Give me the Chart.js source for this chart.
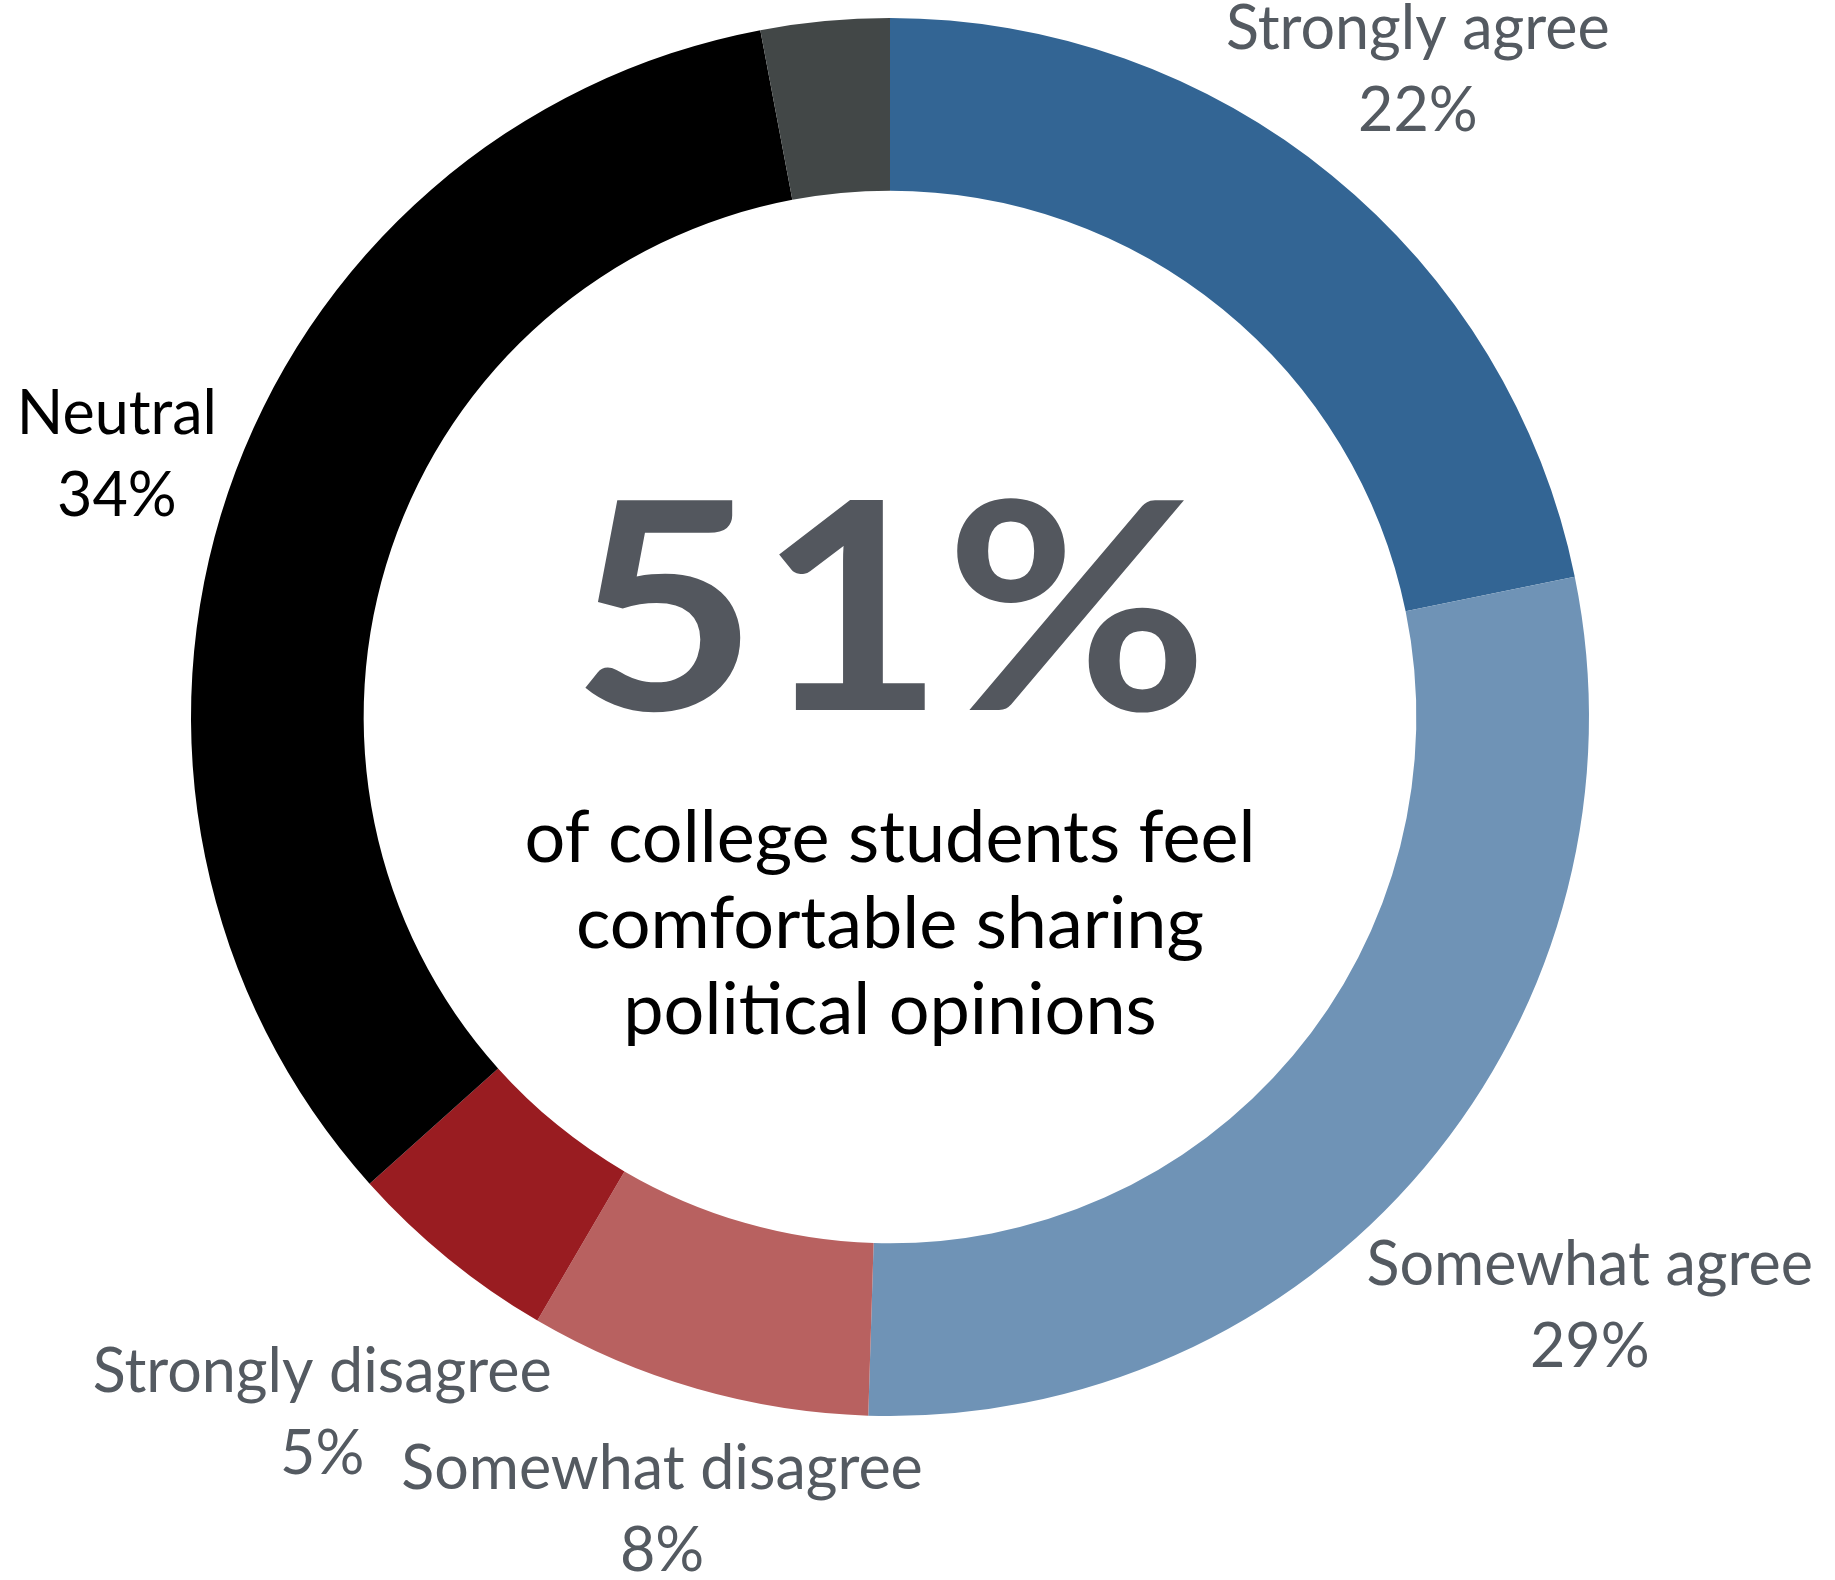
<!doctype html>
<html lang="en">
<head>
<meta charset="utf-8">
<script src="https://cdn.jsdelivr.net/npm/chart.js"></script>
<title>Political opinions doughnut</title>
<style>
  html, body { margin: 0; padding: 0; background: #ffffff; }
  canvas { display: block; }
</style>
</head>
<body>
<canvas id="myChart" width="1835" height="1580"></canvas>

<script>
// answers, clockwise from the top
const categories = ['Strongly agree', 'Somewhat agree', 'Somewhat disagree', 'Strongly disagree', 'Neutral', ''];
const shares = [22, 29, 8, 5, 34, 3];
const sliceColours = ['#336594', '#6f93b6', '#b86160', '#991c21', '#000000', '#424747'];
const labelColours = ['#545a61', '#545a61', '#545a61', '#545a61', '#000000', '#545a61'];

const headline = '51%';
const subtitle = ['of college students feel', 'comfortable sharing', 'political opinions'];

const FONT = 'Lato, "Open Sans", sans-serif';

// labels round the ring: name + percent, pushed out along the middle of each slice
const outerLabels = {
  id: 'outerLabels',
  afterDatasetsDraw(chart) {
    const ctx = chart.ctx;
    const arcs = chart.getDatasetMeta(0).data;
    ctx.save();
    ctx.font = '61px ' + FONT;
    ctx.textAlign = 'center';
    ctx.textBaseline = 'middle';
    arcs.forEach((arc, i) => {
      if (!categories[i]) return;
      const p = arc.getProps(['x', 'y', 'startAngle', 'endAngle', 'outerRadius'], true);
      const mid = (p.startAngle + p.endAngle) / 2;
      const line2 = shares[i] + '%';
      const w = Math.max(ctx.measureText(categories[i]).width, ctx.measureText(line2).width);
      const h = 140;
      const dx = Math.cos(mid), dy = Math.sin(mid);
      let dist = p.outerRadius + Math.abs(dx) * w / 2 + Math.abs(dy) * h / 2;
      // slide back along the ray if the block would leave the canvas
      if (dy < 0 && p.y + dy * dist < h / 2) dist = (p.y - h / 2) / -dy;
      if (dy > 0 && p.y + dy * dist > chart.height - h / 2) dist = (chart.height - h / 2 - p.y) / dy;
      const lx = p.x + dx * dist, ly = p.y + dy * dist;
      ctx.fillStyle = labelColours[i];
      ctx.fillText(categories[i], lx, ly - 41);
      ctx.fillText(line2, lx, ly + 41);
    });
    ctx.restore();
  }
};

// big number and sentence in the hole
const centreText = {
  id: 'centreText',
  afterDatasetsDraw(chart) {
    const ctx = chart.ctx;
    const arc = chart.getDatasetMeta(0).data[0];
    const cx = arc.x, cy = arc.y;
    ctx.save();
    ctx.textAlign = 'center';
    ctx.textBaseline = 'alphabetic';
    ctx.fillStyle = '#53575e';
    ctx.font = 'bold 290px ' + FONT;
    // the original face is wider than Lato, stretch a little
    ctx.save();
    ctx.translate(cx, cy - 7);
    ctx.scale(1.11, 1);
    ctx.fillText(headline, 0, 0);
    ctx.restore();
    ctx.fillStyle = '#000000';
    ctx.font = '72px ' + FONT;
    subtitle.forEach((line, k) => {
      ctx.fillText(line, cx, cy + 145 + k * 86);
    });
    ctx.restore();
  }
};

new Chart(document.getElementById('myChart'), {
  type: 'doughnut',
  data: {
    labels: categories,
    datasets: [{
      data: shares,
      backgroundColor: sliceColours,
      borderWidth: 0
    }]
  },
  options: {
    responsive: false,
    animation: false,
    cutout: '75.3%',
    layout: {
      padding: { left: 191, top: 18, right: 246, bottom: 164 }
    },
    plugins: {
      legend: { display: false },
      tooltip: { enabled: false }
    }
  },
  plugins: [outerLabels, centreText]
});
</script>
</body>
</html>
